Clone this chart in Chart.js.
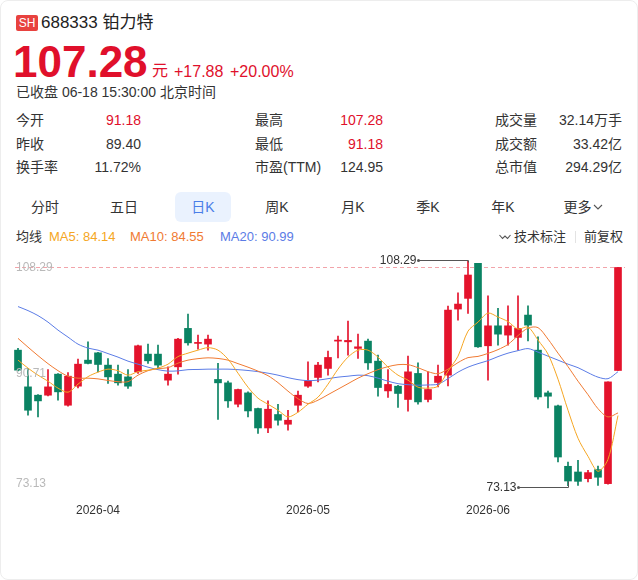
<!DOCTYPE html>
<html lang="zh-CN">
<head>
<meta charset="utf-8">
<title>688333 铂力特 日K</title>
<script src="https://cdn.jsdelivr.net/npm/chart.js@4.4.1/dist/chart.umd.min.js"></script>
<style>
  html, body { margin: 0; padding: 0; background: #fff; }
  body {
    width: 638px; height: 580px; position: relative; overflow: hidden;
    font-family: "Liberation Sans", Arial, "Noto Sans CJK SC", sans-serif; color: #333;
  }
  .card { position: absolute; left: 0; top: 0; width: 636px; height: 578px; border: 1px solid #ededed; border-radius: 8px; }
  .abs { position: absolute; white-space: nowrap; line-height: 1; }
  .red { color: #e0102b; }
  .badge { left: 16px; top: 15px; width: 22px; height: 16px; line-height: 16px; text-align: center;
    background: #e8423f; color: #fff; font-size: 12px; border-radius: 2px; }
  .lbl { font-size: 14px; color: #333; }
  .val { font-size: 14px; text-align: right; }
  .tab { font-size: 14px; width: 70px; text-align: center; top: 200px; color: #333; }
  .pill { left: 175px; top: 192px; width: 56px; height: 30px; background: #eaf2fe; border-radius: 6px; }
  .legend { font-size: 13px; top: 230px; }
  #chartBox { position: absolute; left: 0; top: 250px; width: 638px; height: 280px; }
</style>
</head>
<body>
<div class="card"></div>

<!-- header -->
<div class="abs badge">SH</div>
<div class="abs" style="left:41px;top:14px;font-size:17px;color:#222;">688333 铂力特</div>
<div class="abs red" style="left:13px;top:40px;font-size:44px;font-weight:bold;">107.28</div>
<div class="abs red" style="left:152px;top:63px;font-size:16px;">元</div>
<div class="abs red" style="left:174px;top:64px;font-size:16px;">+17.88</div>
<div class="abs red" style="left:230px;top:64px;font-size:16px;">+20.00%</div>
<div class="abs" style="left:16px;top:85px;font-size:14px;color:#333;">已收盘 06-18 15:30:00 北京时间</div>

<!-- quote stats -->
<div class="abs lbl" style="left:16px;top:113px;">今开</div>
<div class="abs val red" style="right:497px;top:113px;">91.18</div>
<div class="abs lbl" style="left:16px;top:137px;">昨收</div>
<div class="abs val" style="right:497px;top:137px;">89.40</div>
<div class="abs lbl" style="left:16px;top:160px;">换手率</div>
<div class="abs val" style="right:497px;top:160px;">11.72%</div>

<div class="abs lbl" style="left:255px;top:113px;">最高</div>
<div class="abs val red" style="right:255px;top:113px;">107.28</div>
<div class="abs lbl" style="left:255px;top:137px;">最低</div>
<div class="abs val red" style="right:255px;top:137px;">91.18</div>
<div class="abs lbl" style="left:255px;top:160px;">市盈(TTM)</div>
<div class="abs val" style="right:255px;top:160px;">124.95</div>

<div class="abs lbl" style="left:495px;top:113px;">成交量</div>
<div class="abs val" style="right:16px;top:113px;">32.14万手</div>
<div class="abs lbl" style="left:495px;top:137px;">成交额</div>
<div class="abs val" style="right:16px;top:137px;">33.42亿</div>
<div class="abs lbl" style="left:495px;top:160px;">总市值</div>
<div class="abs val" style="right:16px;top:160px;">294.29亿</div>

<!-- period tabs -->
<div class="abs pill"></div>
<div class="abs tab" style="left:10px;">分时</div>
<div class="abs tab" style="left:89px;">五日</div>
<div class="abs tab" style="left:168px;color:#4a7ee8;">日K</div>
<div class="abs tab" style="left:242px;">周K</div>
<div class="abs tab" style="left:318px;">月K</div>
<div class="abs tab" style="left:393px;">季K</div>
<div class="abs tab" style="left:468px;">年K</div>
<div class="abs tab" style="left:548px;">更多<svg width="10" height="8" viewBox="0 0 10 8" style="margin-left:1px;vertical-align:1px"><path d="M1 2 L5 6 L9 2" fill="none" stroke="#555" stroke-width="1.1"/></svg></div>

<!-- MA legend -->
<div class="abs legend" style="left:16px;color:#333;">均线</div>
<div class="abs legend" style="left:49px;color:#f5a623;">MA5: 84.14</div>
<div class="abs legend" style="left:130px;color:#f07a32;">MA10: 84.55</div>
<div class="abs legend" style="left:220px;color:#5b7ce6;">MA20: 90.99</div>
<svg class="abs" style="left:499px;top:233px;" width="12" height="8" viewBox="0 0 12 8"><path d="M0.5 2 L3.5 5.5 L6 3 L8.5 5.5 L11.5 2" fill="none" stroke="#555" stroke-width="1.1"/></svg>
<div class="abs legend" style="left:514px;color:#333;">技术标注</div>
<div class="abs" style="left:575px;top:231px;width:1px;height:12px;background:#e3e3e3;"></div>
<div class="abs legend" style="left:584px;color:#333;">前复权</div>

<div id="chartBox"><canvas id="klineChart" width="638" height="280"></canvas></div>

<script>
// trading days shown on the chart
const tradeDates = [
    '2026-03-20', '2026-03-23', '2026-03-24', '2026-03-25', '2026-03-26', '2026-03-27', '2026-03-30', '2026-03-31',
    '2026-04-01', '2026-04-02', '2026-04-03', '2026-04-07', '2026-04-08', '2026-04-09', '2026-04-10',
    '2026-04-13', '2026-04-14', '2026-04-15', '2026-04-16', '2026-04-17', '2026-04-20', '2026-04-21',
    '2026-04-22', '2026-04-23', '2026-04-24', '2026-04-27', '2026-04-28', '2026-04-29', '2026-04-30',
    '2026-05-06', '2026-05-07', '2026-05-08', '2026-05-11', '2026-05-12', '2026-05-13', '2026-05-14',
    '2026-05-15', '2026-05-18', '2026-05-19', '2026-05-20', '2026-05-21', '2026-05-22', '2026-05-25',
    '2026-05-26', '2026-05-27', '2026-05-28', '2026-05-29',
    '2026-06-01', '2026-06-02', '2026-06-03', '2026-06-04', '2026-06-05', '2026-06-08', '2026-06-09',
    '2026-06-10', '2026-06-11', '2026-06-12', '2026-06-15', '2026-06-16', '2026-06-17', '2026-06-18'
];

const openPrices = [
    94.36, 88.62, 87.32, 87.32, 90.61, 85.75, 88.73, 92.80, 93.94, 92.02,
    90.61, 90.18, 90.97, 93.74, 93.74, 89.67, 91.75, 97.76, 95.41, 95.30,
    89.78, 89.25, 85.91, 87.68, 85.24, 82.20, 84.30, 82.78, 85.75, 88.73,
    90.09, 91.50, 95.77, 95.66, 94.63, 95.77, 92.64, 87.99, 88.73, 86.65,
    90.72, 86.65, 89.31, 90.45, 100.78, 102.45, 107.93, 95.04, 98.16, 96.71,
    96.35, 99.84, 94.36, 87.68, 85.65, 76.21, 75.32, 74.28, 75.69, 73.50,
    91.18
];
const closePrices = [
    91.23, 84.97, 86.43, 88.62, 87.84, 90.29, 92.17, 92.28, 92.12, 90.18,
    89.25, 88.73, 95.04, 92.69, 92.02, 90.61, 96.08, 95.50, 95.57, 96.08,
    89.25, 86.43, 88.21, 84.86, 82.20, 85.13, 83.41, 83.41, 87.32, 89.56,
    92.02, 93.22, 95.93, 95.88, 94.88, 92.37, 88.52, 89.00, 87.59, 90.97,
    86.27, 88.21, 90.29, 100.62, 101.56, 106.10, 94.88, 98.16, 96.86, 98.16,
    97.76, 98.27, 87.05, 87.16, 77.66, 73.91, 73.86, 75.22, 74.50, 89.40,
    107.28
];
const highPrices = [
    94.63, 91.50, 87.40, 91.34, 90.70, 90.87, 92.95, 95.66, 94.00, 93.06,
    92.02, 91.34, 95.14, 95.30, 95.14, 91.75, 96.19, 99.99, 96.71, 96.71,
    92.28, 89.51, 88.26, 87.84, 85.29, 86.43, 85.91, 84.97, 87.95, 92.53,
    92.44, 94.21, 96.55, 98.90, 96.86, 96.08, 93.58, 91.34, 88.88, 93.42,
    92.37, 90.97, 92.02, 101.25, 103.33, 108.29, 107.93, 102.86, 100.89, 101.30,
    102.86, 101.30, 96.44, 87.95, 85.76, 76.88, 77.15, 75.58, 76.25, 89.40,
    107.28
];
const lowPrices = [
    91.10, 84.19, 83.92, 87.20, 86.54, 85.60, 88.46, 92.20, 90.97, 89.15,
    88.88, 88.37, 90.72, 92.28, 91.50, 88.88, 90.61, 95.14, 94.52, 94.36,
    83.52, 85.39, 85.49, 83.92, 81.33, 81.48, 82.62, 81.84, 84.71, 88.52,
    89.40, 90.45, 93.16, 93.58, 93.06, 91.34, 87.16, 86.96, 85.39, 84.82,
    85.91, 86.27, 88.62, 88.78, 99.06, 100.11, 94.80, 89.67, 95.14, 95.14,
    94.36, 95.82, 86.69, 85.33, 76.88, 73.13, 73.24, 73.75, 73.24, 73.40,
    91.18
];

// moving averages as drawn on the chart
const ma5 = [
    92.80, 91.55, 90.45, 89.51, 88.42, 87.79, 89.04, 90.22, 90.92, 91.39,
    91.15, 90.45, 91.00, 91.23, 91.55, 92.17, 93.35, 93.89, 94.36, 94.75,
    94.36, 92.95, 90.76, 88.57, 86.85, 85.91, 84.97, 83.92, 84.66, 85.91,
    87.01, 89.04, 91.39, 93.27, 94.36, 94.36, 93.27, 91.70, 90.45, 89.67,
    88.57, 88.42, 88.73, 91.08, 93.42, 97.33, 98.74, 100.15, 99.53, 98.82,
    97.65, 97.96, 95.93, 93.74, 89.82, 84.97, 80.59, 77.77, 75.43, 77.30,
    84.14
];
const ma10 = [
    96.20, 94.83, 93.50, 92.25, 91.15, 90.29, 89.98, 89.98, 89.87, 89.62,
    89.43, 89.43, 90.45, 91.15, 91.47, 91.62, 92.33, 92.80, 93.03, 93.16,
    93.06, 92.80, 92.25, 91.70, 91.08, 90.37, 89.28, 87.95, 86.77, 86.02,
    86.54, 87.40, 88.26, 89.12, 89.98, 90.68, 91.31, 91.78, 92.09, 92.09,
    91.62, 91.00, 90.68, 91.39, 92.41, 93.19, 93.38, 93.85, 94.44, 95.26,
    96.63, 97.80, 97.88, 96.08, 93.89, 91.78, 89.51, 87.40, 85.21, 83.92,
    84.55
];
const ma20 = [
    101.17, 100.54, 99.76, 98.74, 97.49, 96.40, 95.30, 94.68, 94.36, 93.82,
    93.27, 92.64, 92.17, 91.70, 91.31, 91.08, 91.12, 91.31, 91.34, 91.39,
    91.39, 91.39, 91.31, 91.18, 91.00, 90.76, 90.45, 90.06, 89.75, 89.59,
    89.67, 89.90, 90.14, 90.29, 90.45, 90.37, 89.98, 89.51, 89.12, 88.96,
    88.88, 88.92, 89.04, 89.90, 90.92, 91.70, 92.25, 92.72, 93.35, 93.89,
    94.28, 94.60, 94.05, 93.42, 92.80, 92.17, 91.62, 90.84, 90.14, 89.90,
    90.99
];

// axis labels
const monthTickDates = ['2026-04-01', '2026-05-06', '2026-06-01'];
const monthTickLabels = ['2026-04', '2026-05', '2026-06'];
const priceTickValues = [108.29, 90.71, 73.13];
const priceTickLabels = ['108.29', '90.71', '73.13'];
const lastPrice = 107.28;

const upColor = '#e4132c';
const downColor = '#0a8363';
const candleColors = closePrices.map((c, i) => c >= openPrices[i] ? upColor : downColor);

// price line, axis labels and high/low markers
const overlayPlugin = {
    id: 'overlay',
    beforeDatasetsDraw(chart) {
        const { ctx, chartArea, scales: { y } } = chart;
        const py = Math.round(y.getPixelForValue(lastPrice)) + 0.5;
        ctx.save();
        ctx.strokeStyle = '#f2a4aa';
        ctx.lineWidth = 1;
        ctx.setLineDash([4, 3]);
        ctx.beginPath();
        ctx.moveTo(chartArea.left + 2, py);
        ctx.lineTo(chartArea.right + 2, py);
        ctx.stroke();
        ctx.restore();
    },
    afterDatasetsDraw(chart) {
        const { ctx, chartArea, scales: { x, y } } = chart;
        ctx.save();
        ctx.font = '12px "Liberation Sans", Arial, sans-serif';
        ctx.fillStyle = '#b9b9b9';
        ctx.textAlign = 'left';
        ctx.textBaseline = 'middle';
        const nudges = [7, 0, -2];
        priceTickValues.forEach((v, i) => {
            ctx.fillText(priceTickLabels[i], 16, y.getPixelForValue(v) + nudges[i]);
        });

        // month labels under the candles
        ctx.fillStyle = '#333';
        ctx.textAlign = 'center';
        monthTickDates.forEach((d, i) => {
            ctx.fillText(monthTickLabels[i], x.getPixelForValue(tradeDates.indexOf(d)), chartArea.bottom + 25);
        });

        // highest and lowest price markers
        const hiVal = Math.max(...highPrices);
        const loVal = Math.min(...lowPrices);
        const hiIdx = highPrices.indexOf(hiVal);
        const loIdx = lowPrices.indexOf(loVal);
        ctx.strokeStyle = '#555';
        ctx.fillStyle = '#555';
        ctx.lineWidth = 1;

        const hx = Math.round(x.getPixelForValue(hiIdx)) + 0.5;
        const hy = Math.round(y.getPixelForValue(hiVal)) - 0.5;
        ctx.beginPath();
        ctx.moveTo(hx - 50, hy);
        ctx.lineTo(hx, hy);
        ctx.lineTo(hx, hy + 2);
        ctx.stroke();
        ctx.beginPath();
        ctx.arc(hx - 50, hy, 1.5, 0, Math.PI * 2);
        ctx.fill();
        ctx.fillStyle = '#333';
        ctx.textAlign = 'right';
        ctx.fillText(hiVal.toFixed(2), hx - 52, hy);

        const lx = Math.round(x.getPixelForValue(loIdx)) + 0.5;
        const ly = Math.round(y.getPixelForValue(loVal)) + 1.5;
        ctx.fillStyle = '#555';
        ctx.beginPath();
        ctx.moveTo(lx - 50, ly);
        ctx.lineTo(lx, ly);
        ctx.lineTo(lx, ly - 6);
        ctx.stroke();
        ctx.beginPath();
        ctx.arc(lx - 50, ly, 1.5, 0, Math.PI * 2);
        ctx.fill();
        ctx.fillStyle = '#333';
        ctx.fillText(loVal.toFixed(2), lx - 52, ly);
        ctx.restore();
    }
};

const maLine = (label, data, color) => ({
    type: 'line',
    label: label,
    data: data,
    borderColor: color,
    borderWidth: 1,
    pointRadius: 0,
    tension: 0.3,
    fill: false,
    order: 0
});

new Chart(document.getElementById('klineChart'), {
    type: 'bar',
    data: {
        labels: tradeDates,
        datasets: [
            maLine('MA5', ma5, '#f5a623'),
            maLine('MA10', ma10, '#f07a32'),
            maLine('MA20', ma20, '#5b7ce6'),
            {
                label: 'body',
                data: openPrices.map((o, i) => [o, closePrices[i]]),
                backgroundColor: candleColors,
                barThickness: 7,
                minBarLength: 1,
                grouped: false,
                order: 1
            },
            {
                label: 'wick',
                data: lowPrices.map((l, i) => [l, highPrices[i]]),
                backgroundColor: candleColors,
                barThickness: 1,
                grouped: false,
                order: 2
            }
        ]
    },
    options: {
        responsive: false,
        animation: false,
        layout: { padding: { left: 13, right: 15, top: 11, bottom: 44 } },
        plugins: {
            legend: { display: false },
            tooltip: { enabled: false }
        },
        scales: {
            x: {
                display: false,
                offset: true
            },
            y: {
                display: false,
                min: 73.13,
                max: 108.29
            }
        }
    },
    plugins: [overlayPlugin]
});
</script>
</body>
</html>
